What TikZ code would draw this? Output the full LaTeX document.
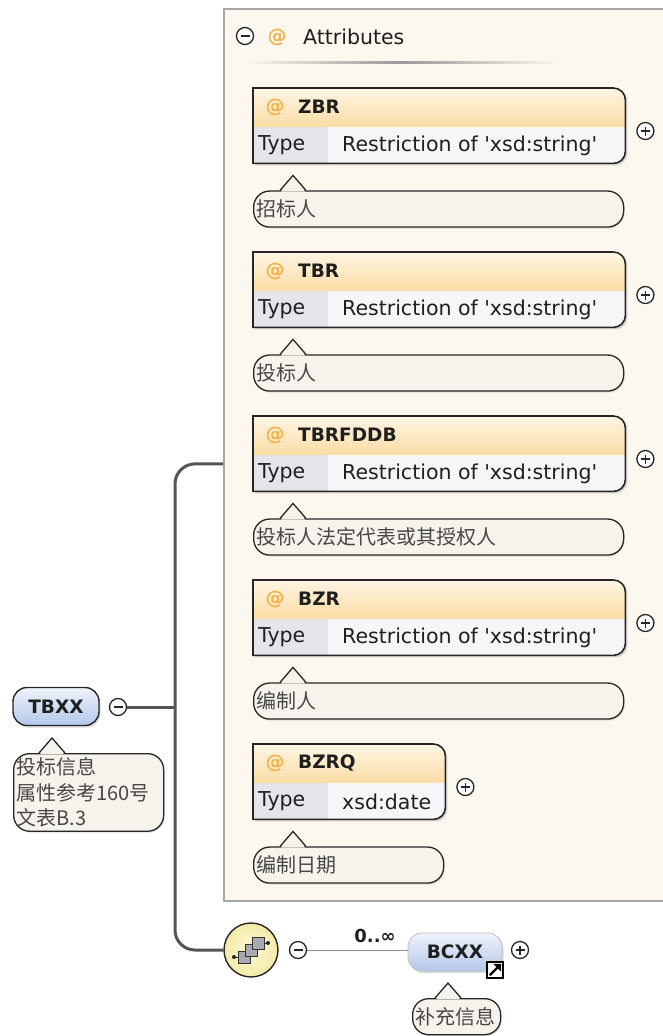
\documentclass[tikz,border=0pt]{standalone}
\usepackage{fontspec}
\setmainfont{DejaVu Sans}
\newfontfamily\cjk{Noto Sans CJK SC}
\usepackage{tikz}
\usetikzlibrary{positioning,calc,shadows}

\definecolor{panelfill}{HTML}{FCF8F0}
\definecolor{panelline}{HTML}{A8A8A8}
\definecolor{docfill}{HTML}{F6F3EC}
\definecolor{hdtop}{HTML}{FEF5E4}
\definecolor{hdbot}{HTML}{FBDCA4}
\definecolor{typecell}{HTML}{E4E4E9}
\definecolor{valcell}{HTML}{F6F6F9}
\definecolor{attorange}{HTML}{F2B24A}
\definecolor{eltop}{HTML}{F0F4FB}
\definecolor{elbot}{HTML}{B3C7EA}
\definecolor{busgray}{HTML}{555555}
\definecolor{seqin}{HTML}{FDF9D8}
\definecolor{seqout}{HTML}{F3EAA6}
\definecolor{boxgray}{HTML}{A9A9B2}

% outline of an attribute box: square left side, rounded right corners
\newcommand{\attoutline}[1]{(#1.north west) -- ([xshift=-12pt]#1.north east)
  arc[start angle=90,end angle=0,radius=12pt] -- ([yshift=12pt]#1.south east)
  arc[start angle=0,end angle=-90,radius=12pt] -- (#1.south west) -- cycle}
% little tail on top of a documentation bubble
\newcommand{\docptr}[2]{%
  \fill[docfill] ([xshift=#2-12pt,yshift=-1.2pt]#1.north west) -- ([xshift=#2,yshift=14pt]#1.north west)
    -- ([xshift=#2+12pt,yshift=-1.2pt]#1.north west) -- cycle;
  \draw[docline] ([xshift=#2-13pt]#1.north west) -- ([xshift=#2,yshift=15pt]#1.north west)
    -- ([xshift=#2+13pt]#1.north west);}

\begin{document}
\begin{tikzpicture}[x=1pt,y=1pt,
    every node/.style={font=\fontsize{20.5}{24}\selectfont,text=black!88},
    panel/.style={draw=panelline,line width=1.8pt,fill=panelfill,anchor=north west,inner sep=0pt},
    attbox/.style={anchor=north west,minimum height=75pt,inner sep=0pt},
    attline/.style={draw=black!85,line width=1.6pt},
    attsym/.style={text=attorange,inner sep=0pt,font=\bfseries\fontsize{19}{22}\selectfont},
    attname/.style={anchor=west,inner sep=0pt,font=\bfseries\fontsize{18.5}{22}\selectfont},
    celltext/.style={anchor=west,inner sep=0pt},
    doc/.style={draw=black!85,line width=1.3pt,fill=docfill,rounded corners=16pt,anchor=north west,
        minimum height=36pt,inner xsep=3pt,inner ysep=4pt,align=left,text=black!72,
        font=\cjk\fontsize{20}{25.5}\selectfont,
        drop shadow={shadow xshift=1pt,shadow yshift=-1.5pt,opacity=.25}},
    docline/.style={draw=black!85,line width=1.3pt},
    element/.style={draw=black!85,line width=1.4pt,rounded corners=14pt,top color=eltop,bottom color=elbot,
        minimum height=38pt,inner sep=0pt,font=\bfseries\fontsize{18.5}{22}\selectfont,
        drop shadow={shadow xshift=1.5pt,shadow yshift=-2pt,opacity=.3}},
    expander/.style={circle,draw=black!85,line width=1.3pt,fill=white,minimum size=17pt,inner sep=0pt},
    minusbtn/.style={expander,path picture={\draw[line width=1.2pt]
        ([xshift=-4.5pt]path picture bounding box.center) -- ([xshift=4.5pt]path picture bounding box.center);}},
    plusbtn/.style={expander,path picture={\draw[line width=1.2pt]
        ([xshift=-4.5pt]path picture bounding box.center) -- ([xshift=4.5pt]path picture bounding box.center)
        ([yshift=-4.5pt]path picture bounding box.center) -- ([yshift=4.5pt]path picture bounding box.center);}},
    bus/.style={draw=busgray,line width=3pt},
    thinline/.style={draw=black!45,line width=1pt}]

  \useasboundingbox (0,0) rectangle (662,-1036);

  % attributes group
  \node (attrs) [panel,minimum width=480pt,minimum height=892pt] at (223,-8) {};
  \node (attrs-minus) [minusbtn] at (245,-36) {};
  \node (attrs-at) [attsym] at (277,-37) {@};
  \node (attrs-title) [celltext] at (303,-37) {Attributes};
  \shade[left color=panelfill,right color=panelfill,middle color=black!40] (243,-61) rectangle (560,-63.5);

  \foreach \nm/\yy/\bw/\tp/\txt [count=\i] in {
      ZBR/88/372/Restriction of \textquotesingle xsd:string\textquotesingle/招标人,
      TBR/252/372/Restriction of \textquotesingle xsd:string\textquotesingle/投标人,
      TBRFDDB/416/372/Restriction of \textquotesingle xsd:string\textquotesingle/投标人法定代表或其授权人,
      BZR/580/372/Restriction of \textquotesingle xsd:string\textquotesingle/编制人,
      BZRQ/744/192/xsd:date/编制日期}
  {
    \node (att\i) [attbox,minimum width=\bw pt] at (253,-\yy) {};
    \path[drop shadow={shadow xshift=2pt,shadow yshift=-2pt,opacity=.3}] \attoutline{att\i};
    \begin{scope}
      \clip \attoutline{att\i};
      \shade[top color=hdtop,bottom color=hdbot] (att\i.north west) rectangle ([yshift=36pt]att\i.south east);
      \fill[typecell] (att\i.south west) rectangle ([xshift=75pt,yshift=36pt]att\i.south west);
      \fill[valcell] ([xshift=75pt]att\i.south west) rectangle ([yshift=36pt]att\i.south east);
    \end{scope}
    \draw[attline] \attoutline{att\i};
    \node (att\i-at) [attsym] at ([xshift=22pt,yshift=-19pt]att\i.north west) {@};
    \node (att\i-name) [attname] at ([xshift=45pt,yshift=-19pt]att\i.north west) {\nm};
    \node (att\i-type) [celltext] at ([xshift=5pt,yshift=18pt]att\i.south west) {Type};
    \node (att\i-val) [celltext] at ([xshift=89pt,yshift=18pt]att\i.south west) {\tp};
    \node (att\i-plus) [plusbtn] at ([xshift=20pt,yshift=-43pt]att\i.north east) {};
    \pgfmathsetmacro\docw{\bw-8}
    \node (doc\i) [doc,text width=\docw pt] at ([yshift=-27pt]att\i.south west) {\txt};
    \docptr{doc\i}{40pt}
  }

  % the element itself
  \node (tbxx) [element,minimum width=86pt] at (56,-706.5) {TBXX};
  \node (tbxx-minus) [minusbtn] at (118,-707) {};
  \node (tbxx-doc) [doc,text width=144pt] at (13,-753) {投标信息\\属性参考160号\\文表B.3};
  \docptr{tbxx-doc}{39pt}

  % sequence
  \node (seq) [circle,draw=black!85,line width=1.4pt,minimum size=54pt,inner sep=0pt,
      inner color=seqin,outer color=seqout] at (251,-950) {};
  \draw[black!85,line width=1pt] ([shift={(-17pt,-7pt)}]seq.center) -- ([shift={(-7pt,-7pt)}]seq.center)
      ([shift={(7pt,7pt)}]seq.center) -- ([shift={(17pt,7pt)}]seq.center);
  \foreach \d in {-7,0,7}
    \draw[black!80,fill=boxgray,line width=0.8pt] ([shift={(\d pt-6pt,\d pt-6pt)}]seq.center) rectangle ++(12pt,12pt);
  \fill[black!85] ([shift={(-17pt,-7pt)}]seq.center) circle (2pt) ([shift={(17pt,7pt)}]seq.center) circle (2pt);
  \node (seq-minus) [minusbtn] at (298,-950) {};

  \node (bcxx) [element,draw=black!25,line width=0.8pt,minimum width=94pt] at (455,-952) {BCXX};
  \node (bcxx-ref) [draw,fill=white,line width=1.3pt,minimum size=16pt,inner sep=0pt] at (495,-970) {};
  \draw[line width=2.4pt] ([shift={(3.5pt,3.5pt)}]bcxx-ref.south west) -- ([shift={(-5pt,-5pt)}]bcxx-ref.north east);
  \fill ([shift={(-2.5pt,-2.5pt)}]bcxx-ref.north east) -- ++(-8pt,0) -- ++(8pt,-8pt) -- cycle;
  \node (bcxx-plus) [plusbtn] at (520,-950) {};
  \node (card) [font=\bfseries\fontsize{18}{22}\selectfont] at (375,-936) {0..∞};
  \node (bcxx-doc) [doc,text width=82pt] at (412,-998) {补充信息};
  \docptr{bcxx-doc}{36pt}

  % connectors
  \draw[bus] (tbxx-minus.east) -- (tbxx-minus.east -| 175,0);
  \draw[bus,rounded corners=20pt] ([yshift=-9pt]attrs.west) -| (175,0 |- seq.west) -- (seq.west);
  \draw[thinline] (seq-minus.east) -- (seq-minus.east -| bcxx.west);
\end{tikzpicture}
\end{document}
